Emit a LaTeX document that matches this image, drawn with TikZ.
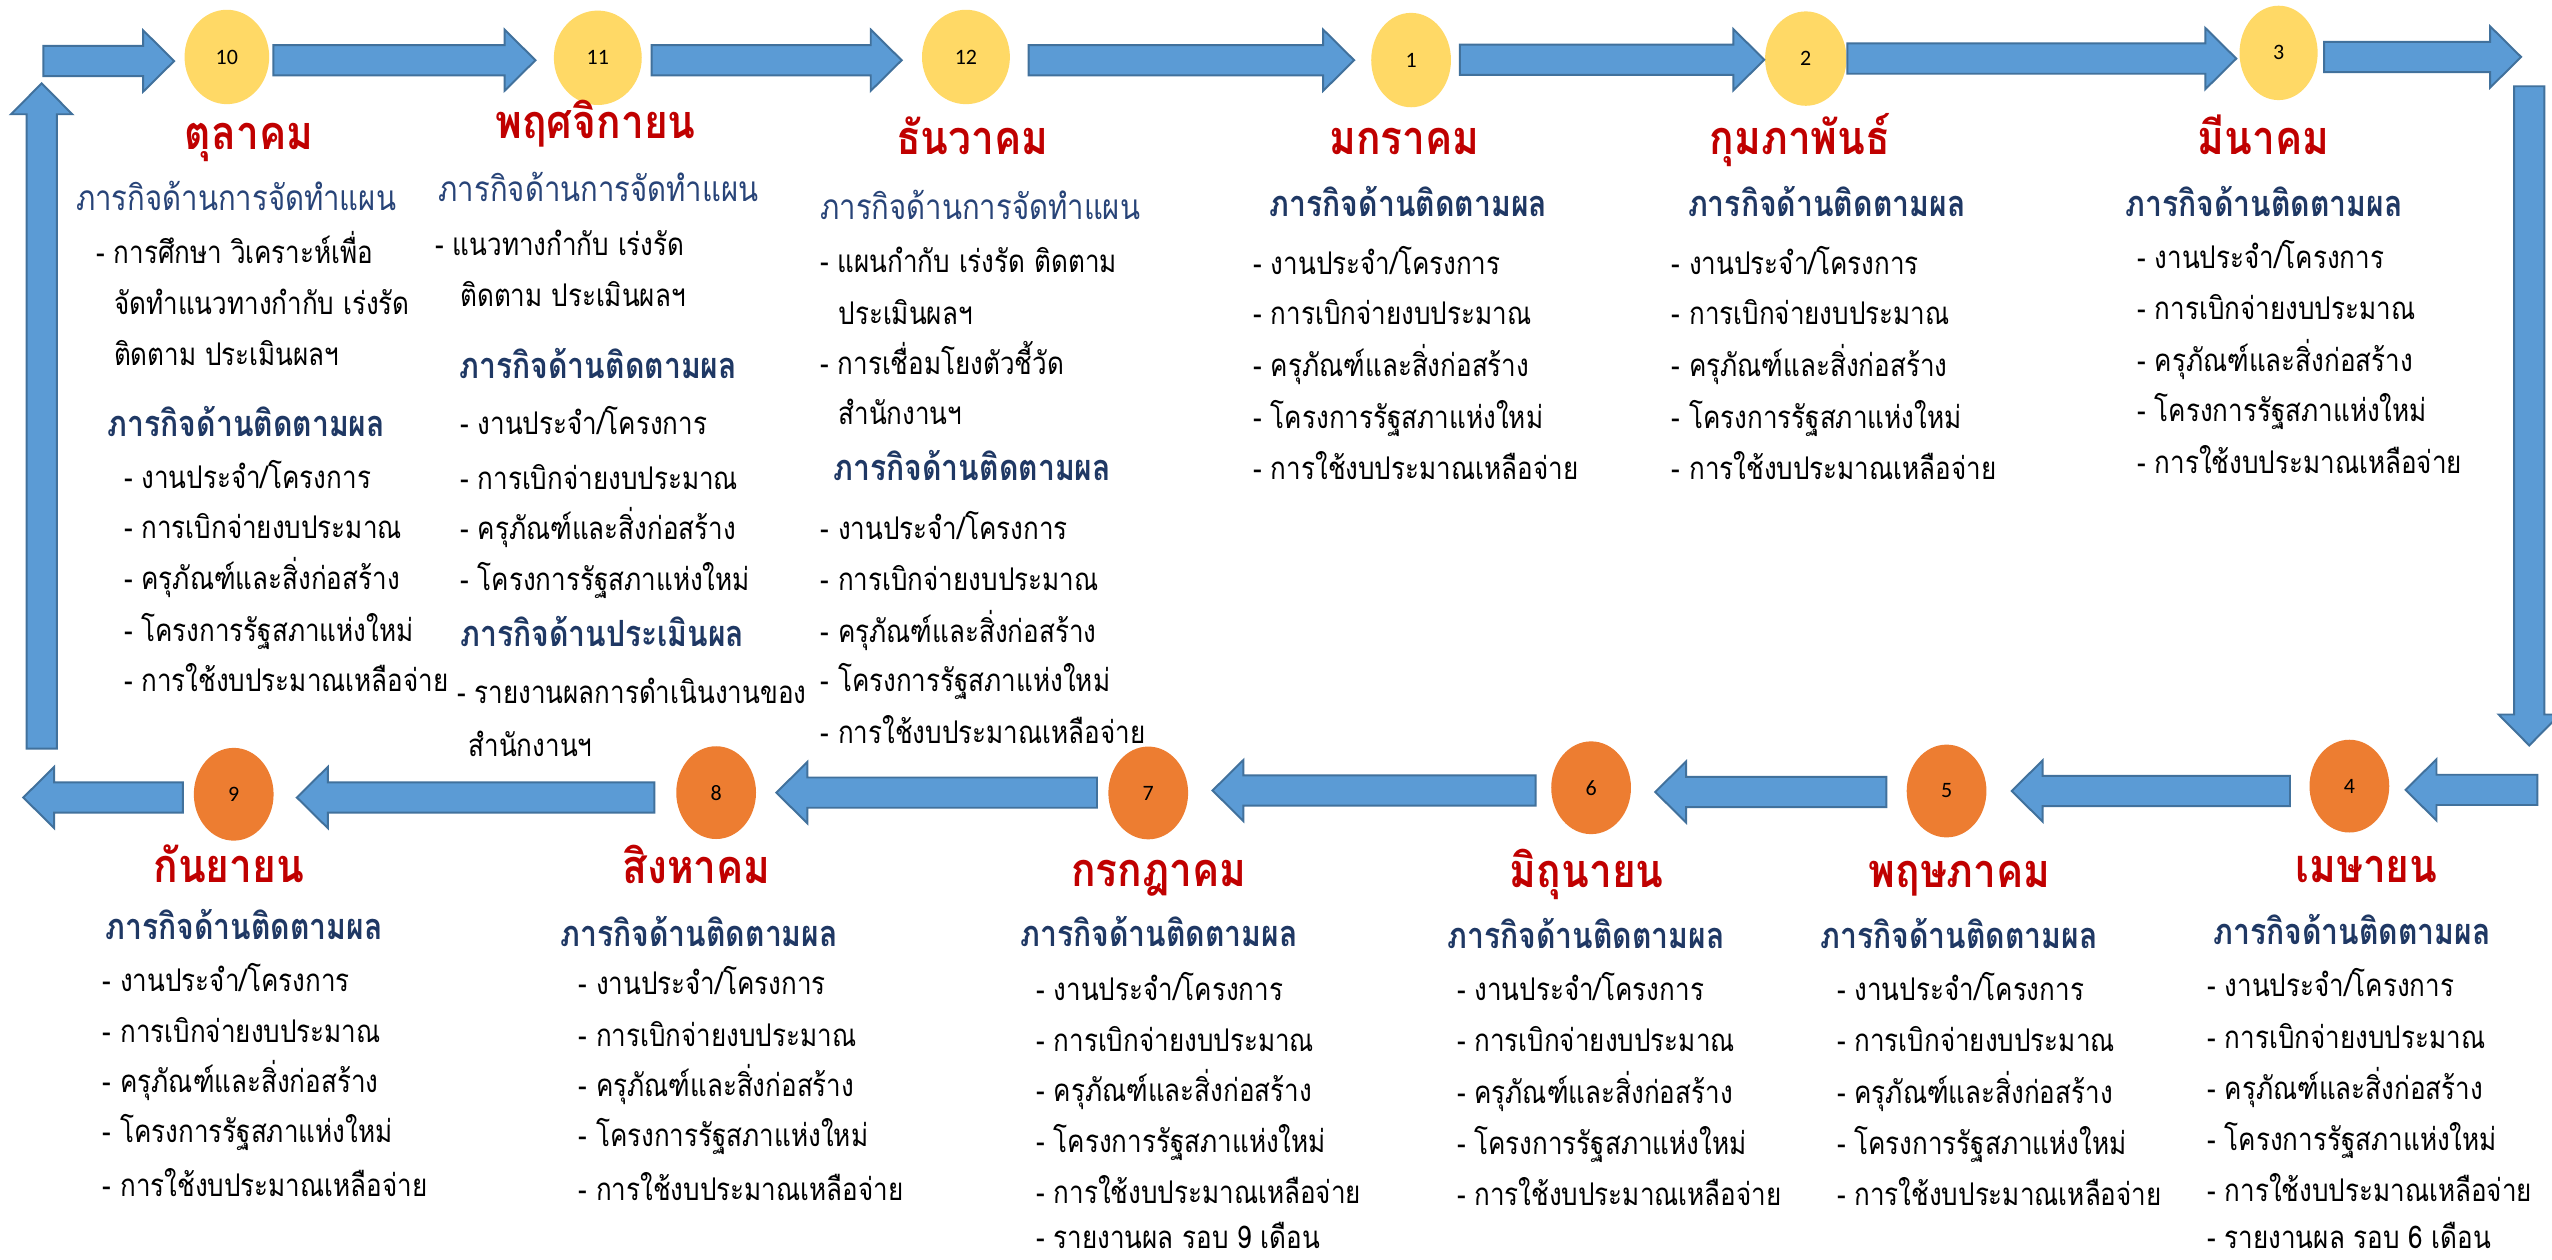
\documentclass[tikz,border=0pt]{standalone}
\usepackage{fontspec}
\usepackage{graphicx}
\usetikzlibrary{shapes.geometric}
\newfontfamily\thai[Script=Thai]{Loma}
\newfontfamily\numfont{Carlito}
\definecolor{arrowfill}{RGB}{91,155,213}
\definecolor{arrowline}{RGB}{65,113,156}
\definecolor{circyel}{RGB}{255,217,102}
\definecolor{circorg}{RGB}{237,125,49}
\definecolor{titlered}{RGB}{192,0,0}
\definecolor{headblue}{RGB}{31,56,100}
\definecolor{headblue2}{RGB}{40,68,120}
\tikzset{
  barrow/.style={fill=arrowfill, draw=arrowline, line width=1.2pt, line join=miter},
  ycirc/.style={ellipse, fill=circyel, inner sep=0, minimum width=51pt, minimum height=58pt, font={\numfont\fontsize{13.5}{16}\selectfont}},
  ocirc/.style={ellipse, fill=circorg, inner sep=0, minimum width=49pt, minimum height=57pt, font={\numfont\fontsize{13.5}{16}\selectfont}},
  mtitle/.style={font={\thai\bfseries\fontsize{25}{30}\selectfont}, text=titlered, anchor=base, inner sep=0},
  hbold/.style={font={\thai\bfseries\fontsize{18.5}{22}\selectfont}, text=headblue, anchor=base west, inner sep=0},
  hreg/.style={font={\thai\fontsize{18}{22}\selectfont}, text=headblue2, anchor=base west, inner sep=0},
  itm/.style={font={\thai\fontsize{16}{20}\selectfont}, text=black, anchor=base west, inner sep=0}
}
% text node with a slight vertical stretch (the reference face is taller)
\newcommand\tnode[5]{\node[#1] (#2) at (#3,#4) {\scalebox{1}[1.2]{#5}};}
\newcommand\ttnode[4]{\node[mtitle] (#1) at (#2,#3) {\scalebox{1}[1.15]{#4}};}
\newcommand\blockarrow[2]{%
  \path (#1); \pgfgetlastxy{\bax}{\bay}%
  \path (#2); \pgfgetlastxy{\bbx}{\bby}%
  \pgfmathsetmacro\blen{veclen(\bbx-\bax,\bby-\bay)}%
  \pgfmathsetmacro\bang{atan2(\bby-\bay,\bbx-\bax)}%
  \begin{scope}[shift={(\bax,\bay)},rotate=\bang]
    \path[barrow] (0pt,-9.3pt) -- ({(\blen-19)*1pt},-9.3pt) -- ({(\blen-19)*1pt},-18.8pt)
      -- ({\blen*1pt},0pt) -- ({(\blen-19)*1pt},18.8pt) -- ({(\blen-19)*1pt},9.3pt) -- (0pt,9.3pt) -- cycle;
  \end{scope}}
\newcommand\stdlist[7]{%
  \tnode{itm}{#1a}{#2}{#3}{- งานประจำ/โครงการ}
  \tnode{itm}{#1b}{#2}{#4}{- การเบิกจ่ายงบประมาณ}
  \tnode{itm}{#1c}{#2}{#5}{- ครุภัณฑ์และสิ่งก่อสร้าง}
  \tnode{itm}{#1d}{#2}{#6}{- โครงการรัฐสภาแห่งใหม่}
  \tnode{itm}{#1e}{#2}{#7}{- การใช้งบประมาณเหลือจ่าย}}
\begin{document}
\begin{tikzpicture}[x=1pt,y=-1pt]
\useasboundingbox (0,0) rectangle (1568,774);
\fill[white] (0,0) rectangle (1568,774);
\clip (0,0) rectangle (1568,774);

% circles
\node[ycirc, minimum width=52pt] (c10) at (139.4,35) {10};
\node[ycirc, minimum width=54pt] (c11) at (367.3,35.5) {11};
\node[ycirc, minimum width=54pt] (c12) at (593.5,35) {12};
\node[ycirc, minimum width=49pt] (c1) at (867,36.9) {1};
\node[ycirc, minimum width=50pt] (c2) at (1109.5,36) {2};
\node[ycirc, minimum width=48pt] (c3) at (1400,32.5) {3};
\node[ocirc] (c4) at (1443.5,483) {4};
\node[ocirc] (c5) at (1196,486) {5};
\node[ocirc] (c6) at (977.6,484) {6};
\node[ocirc] (c7) at (705.5,487.2) {7};
\node[ocirc] (c8) at (440,487) {8};
\node[ocirc] (c9) at (143.6,488) {9};

% arrow end points
\coordinate (aA1) at (26.6,37.5);  \coordinate (aA2) at (107,37.5);
\coordinate (aB1) at (168,37);     \coordinate (aB2) at (329,37);
\coordinate (aC1) at (400.4,37);   \coordinate (aC2) at (554,37);
\coordinate (aD1) at (632,37);     \coordinate (aD2) at (832,37);
\coordinate (aE1) at (897,36.7);   \coordinate (aE2) at (1084,36.7);
\coordinate (aF1) at (1135,36);    \coordinate (aF2) at (1374,36);
\coordinate (aG1) at (1428,35);    \coordinate (aG2) at (1549,35);
\coordinate (aR1) at (1554,53);    \coordinate (aR2) at (1554,458);
\coordinate (aH1) at (1559,485.3); \coordinate (aH2) at (1478,485.3);
\coordinate (aI1) at (1407,486);   \coordinate (aI2) at (1236,486);
\coordinate (aJ1) at (1159,486.6); \coordinate (aJ2) at (1017,486.6);
\coordinate (aK1) at (943.5,485.7);\coordinate (aK2) at (745,485.7);
\coordinate (aL1) at (674,487);    \coordinate (aL2) at (477,487);
\coordinate (aM1) at (402,490);    \coordinate (aM2) at (182.4,490);
\coordinate (aN1) at (112.4,490);  \coordinate (aN2) at (14.3,490);
\coordinate (aU1) at (25.6,460);   \coordinate (aU2) at (25.6,51.2);

\blockarrow{aA1}{aA2}
\blockarrow{aB1}{aB2}
\blockarrow{aC1}{aC2}
\blockarrow{aD1}{aD2}
\blockarrow{aE1}{aE2}
\blockarrow{aF1}{aF2}
\blockarrow{aG1}{aG2}
\blockarrow{aR1}{aR2}
\blockarrow{aH1}{aH2}
\blockarrow{aI1}{aI2}
\blockarrow{aJ1}{aJ2}
\blockarrow{aK1}{aK2}
\blockarrow{aL1}{aL2}
\blockarrow{aM1}{aM2}
\blockarrow{aN1}{aN2}
\blockarrow{aU1}{aU2}

% October
\ttnode{t10}{153}{92}{ตุลาคม}
\tnode{hreg}{h10a}{46.6}{129.4}{ภารกิจด้านการจัดทำแผน}
\tnode{itm}{p10a}{59}{161.8}{- การศึกษา วิเคราะห์เพื่อ}
\tnode{itm}{p10b}{69.9}{193.5}{จัดทำแนวทางกำกับ เร่งรัด}
\tnode{itm}{p10c}{69.9}{224.3}{ติดตาม ประเมินผลฯ}
\tnode{hbold}{h10b}{66}{268}{ภารกิจด้านติดตามผล}
\stdlist{l10}{76}{300}{331}{362}{394}{425}

% November
\ttnode{t11}{366}{85}{พฤศจิกายน}
\tnode{hreg}{h11a}{269.3}{123.7}{ภารกิจด้านการจัดทำแผน}
\tnode{itm}{p11a}{267.3}{157}{- แนวทางกำกับ เร่งรัด}
\tnode{itm}{p11b}{282.6}{188.2}{ติดตาม ประเมินผลฯ}
\tnode{hbold}{h11b}{282.2}{232.6}{ภารกิจด้านติดตามผล}
\tnode{itm}{l11a}{282.6}{267.1}{- งานประจำ/โครงการ}
\tnode{itm}{l11b}{282.6}{300.6}{- การเบิกจ่ายงบประมาณ}
\tnode{itm}{l11c}{282.6}{331.5}{- ครุภัณฑ์และสิ่งก่อสร้าง}
\tnode{itm}{l11d}{282.6}{363}{- โครงการรัฐสภาแห่งใหม่}
\tnode{hbold}{h11c}{282.6}{397}{ภารกิจด้านประเมินผล}
\tnode{itm}{p11c}{280.6}{432.3}{- รายงานผลการดำเนินงานของ}
\tnode{itm}{p11d}{287.7}{465.1}{สำนักงานฯ}

% December
\ttnode{t12}{597.4}{95}{ธันวาคม}
\tnode{hreg}{h12a}{503.8}{134.7}{ภารกิจด้านการจัดทำแผน}
\tnode{itm}{p12a}{503.8}{167.5}{- แผนกำกับ เร่งรัด ติดตาม}
\tnode{itm}{p12b}{515}{199.1}{ประเมินผลฯ}
\tnode{itm}{p12c}{503.8}{230.2}{- การเชื่อมโยงตัวชี้วัด}
\tnode{itm}{p12d}{515}{261}{สำนักงานฯ}
\tnode{hbold}{h12b}{512}{295}{ภารกิจด้านติดตามผล}
\stdlist{l12}{504}{331.5}{363}{394.6}{425}{456.6}

% January
\ttnode{t1}{863}{95}{มกราคม}
\tnode{hbold}{h1}{780}{133}{ภารกิจด้านติดตามผล}
\stdlist{l1}{770}{168.5}{199.5}{231.5}{263.5}{294.5}

% February
\ttnode{t2}{1106}{95}{กุมภาพันธ์}
\tnode{hbold}{h2}{1037}{133}{ภารกิจด้านติดตามผล}
\stdlist{l2}{1027}{168.5}{199.5}{231.5}{263.5}{294.5}

% March
\ttnode{t3}{1390.6}{95.2}{มีนาคม}
\tnode{hbold}{h3}{1305.6}{133.1}{ภารกิจด้านติดตามผล}
\stdlist{l3}{1313}{164.9}{196.6}{228.4}{259.1}{290.8}

% April
\ttnode{t4}{1454}{542}{เมษายน}
\tnode{hbold}{h4}{1359.8}{580.4}{ภารกิจด้านติดตามผล}
\stdlist{l4}{1356}{612.2}{644}{675.8}{707}{738.4}
\tnode{itm}{l4f}{1356}{767}{- รายงานผล รอบ 6 เดือน}

% May
\ttnode{t5}{1204}{545}{พฤษภาคม}
\tnode{hbold}{h5}{1118.2}{583}{ภารกิจด้านติดตามผล}
\stdlist{l5}{1128.5}{614.7}{645.9}{678}{709.2}{740.4}

% June
\ttnode{t6}{975}{545}{มิถุนายน}
\tnode{hbold}{h6}{889}{583}{ภารกิจด้านติดตามผล}
\stdlist{l6}{895}{614.7}{645.9}{678}{709.2}{740.4}

% July
\ttnode{t7}{712}{544.5}{กรกฎาคม}
\tnode{hbold}{h7}{626.7}{581.5}{ภารกิจด้านติดตามผล}
\stdlist{l7}{636.5}{614.7}{645.9}{677}{708.2}{739.3}
\tnode{itm}{l7f}{636.5}{767}{- รายงานผล รอบ 9 เดือน}

% August
\ttnode{t8}{428}{543}{สิงหาคม}
\tnode{hbold}{h8}{344.2}{581.5}{ภารกิจด้านติดตามผล}
\stdlist{l8}{355.3}{611}{643}{673.6}{704.3}{737.3}

% September
\ttnode{t9}{140.6}{542}{กันยายน}
\tnode{hbold}{h9}{64.5}{577.5}{ภารกิจด้านติดตามผล}
\stdlist{l9}{63}{608.9}{640.8}{671.5}{702.2}{735.1}
\end{tikzpicture}
\end{document}
